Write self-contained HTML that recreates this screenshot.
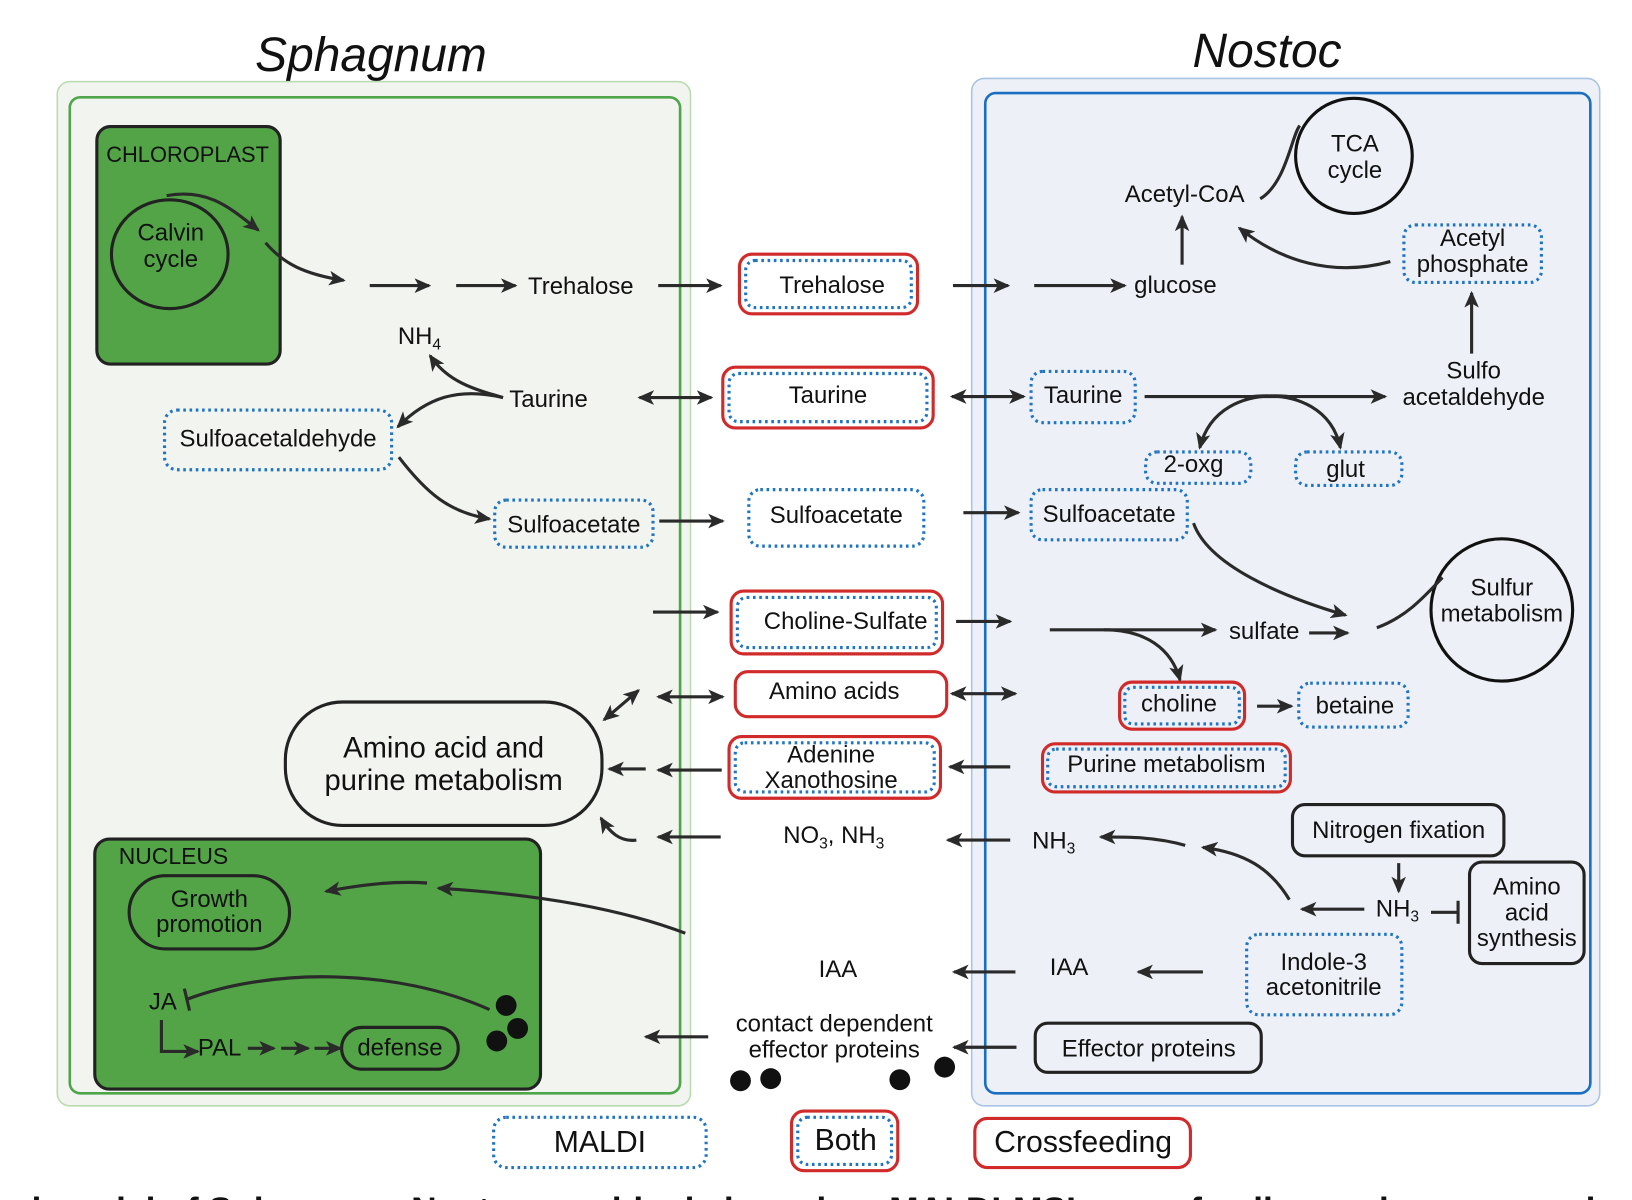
<!DOCTYPE html>
<html><head><meta charset="utf-8"><style>
html,body{margin:0;padding:0;background:#fff}
svg{display:block}
text{font-family:"Liberation Sans",sans-serif;fill:#111}
</style></head><body>
<svg width="1632" height="1200" viewBox="0 0 1567 1147" preserveAspectRatio="none" xmlns="http://www.w3.org/2000/svg">
<defs>
<marker id="a" markerUnits="userSpaceOnUse" markerWidth="16" markerHeight="14" refX="14" refY="7" orient="auto-start-reverse"><path d="M0,0 L16,7 L0,14 L4,7 z" fill="#2a2a2a"/></marker>
</defs>
<g font-size="23">
<text x="245" y="68" font-size="46" font-style="italic">Sphagnum</text>
<text x="1145" y="64" font-size="46" font-style="italic">Nostoc</text>

<rect x="55" y="78" width="608" height="979" rx="12" fill="#f2f4ef" stroke="#b9dbad" stroke-width="1.5"/>
<rect x="67" y="93" width="586" height="952" rx="10" fill="none" stroke="#4ea54a" stroke-width="2.5"/>
<rect x="933" y="75" width="603" height="982" rx="12" fill="#edf1f7" stroke="#a9c4e4" stroke-width="1.5"/>
<rect x="946" y="89" width="581" height="956" rx="10" fill="none" stroke="#1a6fc0" stroke-width="2.5"/>

<rect x="93" y="121" width="176" height="227" rx="13" fill="#52a447" stroke="#222" stroke-width="3"/>
<text x="102" y="155" font-size="21">CHLOROPLAST</text>
<ellipse cx="163" cy="243" rx="56" ry="52" fill="none" stroke="#222" stroke-width="3"/>
<text x="164" y="230" text-anchor="middle">Calvin</text>
<text x="164" y="255" text-anchor="middle">cycle</text>

<rect x="91" y="802" width="428" height="239" rx="14" fill="#52a447" stroke="#222" stroke-width="3"/>
<text x="114" y="826" font-size="22">NUCLEUS</text>
<rect x="124" y="837" width="154" height="70" rx="35" fill="none" stroke="#222" stroke-width="3"/>
<text x="201" y="867" text-anchor="middle">Growth</text>
<text x="201" y="891" text-anchor="middle">promotion</text>
<rect x="328" y="982" width="112" height="40" rx="20" fill="none" stroke="#222" stroke-width="3"/>
<text x="384" y="1009" text-anchor="middle">defense</text>
<text x="143" y="965">JA</text>
<text x="190" y="1009">PAL</text>
<circle cx="486" cy="961" r="10" fill="#111"/><circle cx="497" cy="983" r="10" fill="#111"/><circle cx="477" cy="995" r="10" fill="#111"/>

<rect x="274" y="671" width="304" height="118" rx="55" fill="none" stroke="#222" stroke-width="3"/>
<text x="426" y="724" text-anchor="middle" font-size="28">Amino acid and</text>
<text x="426" y="755" text-anchor="middle" font-size="28">purine metabolism</text>

<ellipse cx="1300" cy="149" rx="56" ry="55" fill="none" stroke="#111" stroke-width="3"/>
<text x="1301" y="145" text-anchor="middle">TCA</text>
<text x="1301" y="170" text-anchor="middle">cycle</text>
<ellipse cx="1442" cy="583" rx="68" ry="68" fill="none" stroke="#111" stroke-width="3"/>
<text x="1442" y="569" text-anchor="middle">Sulfur</text>
<text x="1442" y="594" text-anchor="middle">metabolism</text>

<g fill="none" stroke="#d12a2a" stroke-width="3">
<rect x="710" y="243" width="171" height="57" rx="12"/>
<rect x="694" y="351" width="202" height="58" rx="12"/>
<rect x="702" y="565" width="203" height="60" rx="12"/>
<rect x="706" y="642" width="203" height="43" rx="12"/>
<rect x="700" y="704" width="203" height="59" rx="12"/>
<rect x="760" y="1062" width="102" height="57" rx="12"/>
<rect x="936" y="1069" width="207" height="47" rx="12"/>
<rect x="1075" y="652" width="120" height="45" rx="12"/>
<rect x="1001" y="711" width="238" height="46" rx="12"/>
</g>
<g fill="none" stroke="#1f74c4" stroke-width="3" stroke-dasharray="2.5 3.5">
<rect x="716" y="249" width="159" height="45" rx="9"/>
<rect x="700" y="357" width="190" height="46" rx="9"/>
<rect x="719" y="468" width="168" height="54" rx="11"/>
<rect x="708" y="571" width="191" height="48" rx="9"/>
<rect x="706" y="710" width="191" height="47" rx="9"/>
<rect x="474" y="1068" width="204" height="48" rx="12"/>
<rect x="766" y="1068" width="90" height="45" rx="9"/>
<rect x="158" y="392" width="218" height="57" rx="12"/>
<rect x="475" y="478" width="152" height="45" rx="11"/>
<rect x="990" y="355" width="100" height="49" rx="11"/>
<rect x="1100" y="432" width="101" height="30" rx="11"/>
<rect x="1244" y="432" width="102" height="32" rx="11"/>
<rect x="990" y="468" width="150" height="48" rx="11"/>
<rect x="1348" y="215" width="132" height="55" rx="11"/>
<rect x="1080" y="657" width="110" height="35" rx="8"/>
<rect x="1247" y="653" width="105" height="42" rx="11"/>
<rect x="1006" y="716" width="228" height="36" rx="8"/>
<rect x="1197" y="893" width="149" height="77" rx="12"/>
</g>
<g fill="none" stroke="#222" stroke-width="3">
<rect x="1241" y="769" width="203" height="49" rx="12"/>
<rect x="1411" y="824" width="110" height="97" rx="12"/>
<rect x="994" y="978" width="217" height="47" rx="12"/>
</g>

<text x="799" y="280" text-anchor="middle">Trehalose</text>
<text x="795" y="385" text-anchor="middle">Taurine</text>
<text x="803" y="500" text-anchor="middle">Sulfoacetate</text>
<text x="812" y="601" text-anchor="middle">Choline-Sulfate</text>
<text x="801" y="668" text-anchor="middle">Amino acids</text>
<text x="798" y="729" text-anchor="middle">Adenine</text>
<text x="798" y="753" text-anchor="middle">Xanothosine</text>
<text x="576" y="1101" text-anchor="middle" font-size="29">MALDI</text>
<text x="812" y="1099" text-anchor="middle" font-size="29">Both</text>
<text x="1040" y="1101" text-anchor="middle" font-size="29">Crossfeeding</text>
<text x="267" y="427" text-anchor="middle">Sulfoacetaldehyde</text>
<text x="551" y="509" text-anchor="middle">Sulfoacetate</text>
<text x="1040" y="385" text-anchor="middle">Taurine</text>
<text x="1146" y="451" text-anchor="middle">2-oxg</text>
<text x="1292" y="456" text-anchor="middle">glut</text>
<text x="1065" y="499" text-anchor="middle">Sulfoacetate</text>
<text x="1414" y="235" text-anchor="middle">Acetyl</text>
<text x="1414" y="260" text-anchor="middle">phosphate</text>
<text x="1132" y="680" text-anchor="middle">choline</text>
<text x="1301" y="682" text-anchor="middle">betaine</text>
<text x="1120" y="738" text-anchor="middle">Purine metabolism</text>
<text x="1343" y="801" text-anchor="middle">Nitrogen fixation</text>
<text x="1466" y="855" text-anchor="middle">Amino</text>
<text x="1466" y="880" text-anchor="middle">acid</text>
<text x="1466" y="904" text-anchor="middle">synthesis</text>
<text x="1271" y="927" text-anchor="middle">Indole-3</text>
<text x="1271" y="951" text-anchor="middle">acetonitrile</text>
<text x="1103" y="1010" text-anchor="middle">Effector proteins</text>

<text x="507" y="281">Trehalose</text>
<text x="382" y="329">NH<tspan font-size="15" dy="5">4</tspan></text>
<text x="489" y="389">Taurine</text>
<text x="1080" y="193">Acetyl-CoA</text>
<text x="1089" y="280">glucose</text>
<text x="1415" y="362" text-anchor="middle">Sulfo</text>
<text x="1415" y="387" text-anchor="middle">acetaldehyde</text>
<text x="1180" y="611">sulfate</text>
<text x="752" y="806">NO<tspan font-size="15" dy="5">3</tspan><tspan dy="-5">, NH</tspan><tspan font-size="15" dy="5">3</tspan></text>
<text x="991" y="811">NH<tspan font-size="15" dy="5">3</tspan></text>
<text x="1321" y="876">NH<tspan font-size="15" dy="5">3</tspan></text>
<text x="786" y="934">IAA</text>
<text x="1008" y="932">IAA</text>
<text x="801" y="986" text-anchor="middle">contact dependent</text>
<text x="801" y="1011" text-anchor="middle">effector proteins</text>
<circle cx="711" cy="1033" r="10" fill="#111"/><circle cx="740" cy="1031" r="10" fill="#111"/><circle cx="864" cy="1032" r="10" fill="#111"/><circle cx="907" cy="1020" r="10" fill="#111"/>

<g fill="none" stroke="#2a2a2a" stroke-width="3">
<path d="M160,187 C200,180 220,198 248,220" marker-end="url(#a)"/>
<path d="M255,232 C272,252 292,262 330,268" marker-end="url(#a)"/>
<path d="M355,273 H412" marker-end="url(#a)"/>
<path d="M438,273 H495" marker-end="url(#a)"/>
<path d="M632,273 H692" marker-end="url(#a)"/>
<path d="M483,380 C455,372 430,365 413,340" marker-end="url(#a)"/>
<path d="M483,380 C440,370 410,380 382,408" marker-end="url(#a)"/>
<path d="M383,437 C410,472 432,490 470,496" marker-end="url(#a)"/>
<path d="M633,498 H694" marker-end="url(#a)"/>
<path d="M614,380 H683" marker-start="url(#a)" marker-end="url(#a)"/>
<path d="M915,273 H968" marker-end="url(#a)"/>
<path d="M993,273 H1080" marker-end="url(#a)"/>
<path d="M1135,253 V207" marker-end="url(#a)"/>
<path d="M1210,190 C1235,175 1240,130 1248,120"/>
<path d="M1335,250 C1280,265 1230,250 1190,218" marker-end="url(#a)"/>
<path d="M1413,338 V280" marker-end="url(#a)"/>
<path d="M914,379 H983" marker-start="url(#a)" marker-end="url(#a)"/>
<path d="M1099,379 H1330" marker-end="url(#a)"/>
<path d="M1245,380 C1190,372 1160,395 1152,428" marker-end="url(#a)"/>
<path d="M1195,380 C1250,372 1280,395 1287,428" marker-end="url(#a)"/>
<path d="M925,490 H978" marker-end="url(#a)"/>
<path d="M1146,500 C1160,540 1230,570 1292,588" marker-end="url(#a)"/>
<path d="M627,585 H689" marker-end="url(#a)"/>
<path d="M918,594 H970" marker-end="url(#a)"/>
<path d="M1008,602 H1167" marker-end="url(#a)"/>
<path d="M1257,605 H1294" marker-end="url(#a)"/>
<path d="M1060,602 C1100,602 1125,620 1133,650" marker-end="url(#a)"/>
<path d="M1322,600 C1350,590 1368,570 1385,552"/>
<path d="M632,666 H694" marker-start="url(#a)" marker-end="url(#a)"/>
<path d="M914,663 H975" marker-start="url(#a)" marker-end="url(#a)"/>
<path d="M580,688 L613,660" marker-start="url(#a)" marker-end="url(#a)"/>
<path d="M693,736 H632" marker-end="url(#a)"/>
<path d="M620,735 H585" marker-end="url(#a)"/>
<path d="M970,733 H912" marker-end="url(#a)"/>
<path d="M1207,675 H1240" marker-end="url(#a)"/>
<path d="M692,800 H632" marker-end="url(#a)"/>
<path d="M611,803 C595,805 585,795 577,782" marker-end="url(#a)"/>
<path d="M970,803 H910" marker-end="url(#a)"/>
<path d="M1138,808 C1110,800 1085,800 1057,800" marker-end="url(#a)"/>
<path d="M1238,860 C1220,830 1195,815 1155,810" marker-end="url(#a)"/>
<path d="M1343,825 V852" marker-end="url(#a)"/>
<path d="M1310,869 H1250" marker-end="url(#a)"/>
<path d="M1374,872 H1400 M1400,861 V883"/>
<path d="M975,929 H916" marker-end="url(#a)"/>
<path d="M1155,929 H1093" marker-end="url(#a)"/>
<path d="M680,991 H620" marker-end="url(#a)"/>
<path d="M976,1001 H916" marker-end="url(#a)"/>
<path d="M658,892 C600,870 520,855 421,849" marker-end="url(#a)"/>
<path d="M410,844 C380,842 350,845 313,852" marker-end="url(#a)"/>
<path d="M470,965 C380,925 260,925 180,955 M177,945 L182,966"/>
<path d="M155,975 V1005 H190" marker-end="url(#a)"/>
<path d="M238,1002 H263" marker-end="url(#a)"/>
<path d="M270,1002 H296" marker-end="url(#a)"/>
<path d="M302,1002 H327" marker-end="url(#a)"/>
</g>

<text x="0" y="1168" font-size="34" font-weight="bold">ed model of Sphagnum–Nostoc symbiosis based on MALDI-MSI, crossfeeding and co-expression</text>
</g>
</svg>
</body></html>
